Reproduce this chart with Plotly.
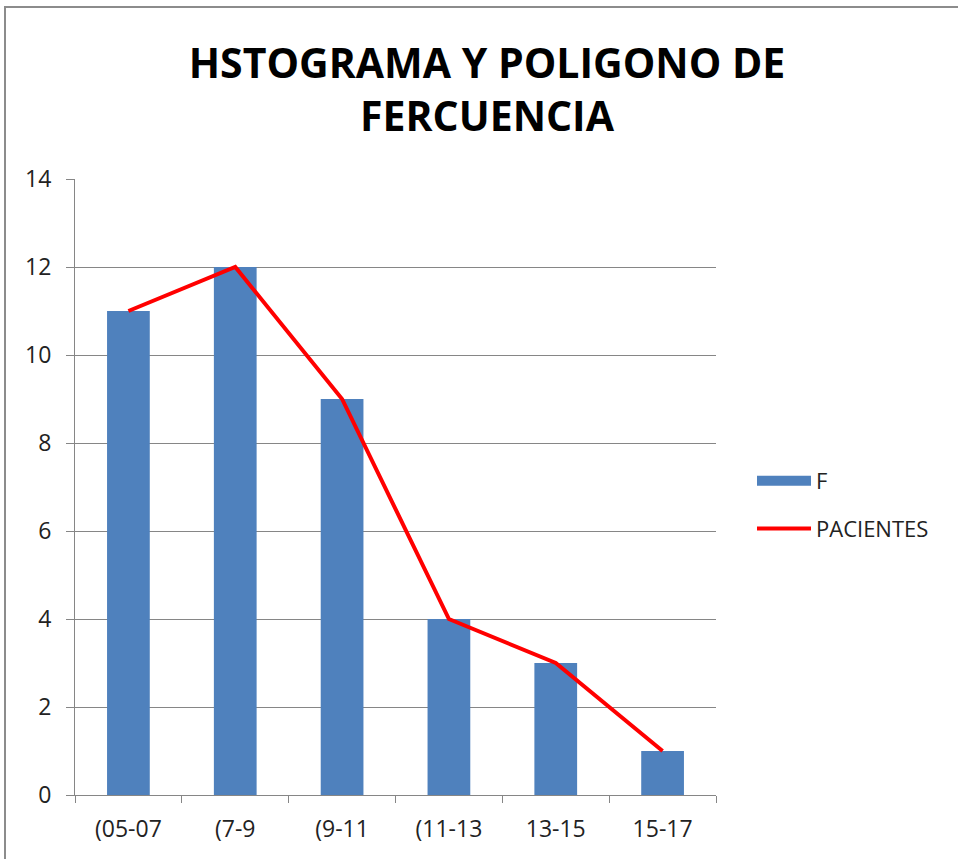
import plotly.graph_objects as go

categories = ["(05-07", "(7-9", "(9-11", "(11-13", "13-15", "15-17"]
f_values = [11, 12, 9, 4, 3, 1]
pacientes = [11, 12, 9, 4, 3, 1]
y_ticks = [0, 2, 4, 6, 8, 10, 12, 14]

W, H = 958, 859
L, R, T, B = 75, 716, 179, 795
BLUE = "#4F81BD"

fig = go.Figure()
fig.add_trace(go.Bar(x=categories, y=f_values, name="F", showlegend=False,
                     marker=dict(color=BLUE, line=dict(width=0)), width=0.4))
# legend entry for F drawn as a wide patch
fig.add_trace(go.Scatter(x=[None], y=[None], name="F", mode="lines", legendgroup="f",
                         line=dict(color=BLUE, width=14)))
fig.add_trace(go.Scatter(x=categories, y=pacientes, name="PACIENTES", mode="lines",
                         legendgroup="p", line=dict(color="#FF0000", width=4)))

pw = R - L
ph = B - T
def px(x):
    return (x - L) / pw
def py(y):
    return (B - y) / ph

fig.update_layout(
    width=W, height=H,
    margin=dict(l=L, r=W - R, t=T, b=H - B),
    paper_bgcolor="white", plot_bgcolor="white",
    title=dict(text="<b>HSTOGRAMA Y POLIGONO DE<br>FERCUENCIA</b>",
               x=487 / W, xanchor="center", y=1 - 78 / H, yanchor="middle",
               font=dict(family="Open Sans", size=41, color="black")),
    font=dict(family="Open Sans", color="#222222"),
    showlegend=True,
    legend=dict(x=px(752), y=py(505), xanchor="left", yanchor="middle",
                font=dict(size=22, color="#222222"), tracegroupgap=16,
                itemwidth=54, traceorder="grouped", bgcolor="rgba(0,0,0,0)"),
    xaxis=dict(type="category", range=[-0.5, 5.5], showline=True, linecolor="#868686",
               linewidth=1, ticks="outside", tickson="boundaries", ticklen=7,
               tickcolor="#868686", tickfont=dict(size=23, color="#222222"),
               showgrid=False, fixedrange=True, ticklabelstandoff=13),
    yaxis=dict(range=[0, 14], tickvals=y_ticks, showline=True, linecolor="#868686",
               linewidth=1, ticks="outside", ticklen=8, tickcolor="#868686",
               gridcolor="#868686", gridwidth=1, tickfont=dict(size=23, color="#222222"),
               zeroline=False, ticklabelstandoff=10),
    shapes=[dict(type="rect", xref="paper", yref="paper",
                 x0=px(5), x1=px(W + 20), y0=py(H + 20), y1=py(7),
                 line=dict(color="#8C8C8C", width=2), fillcolor="rgba(0,0,0,0)")],
)

fig.write_html("out.html", config={"displayModeBar": False},
               post_script="document.body.style.margin='0';")
